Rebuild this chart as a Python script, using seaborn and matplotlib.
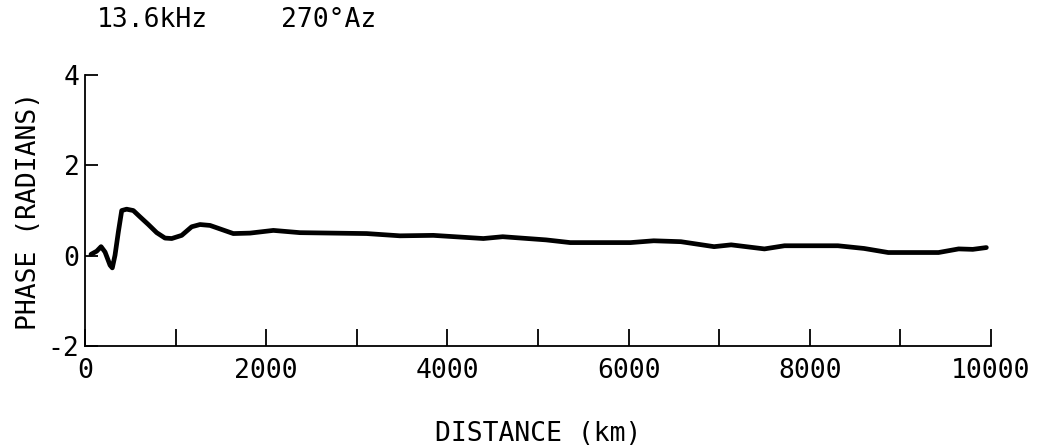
import matplotlib
matplotlib.use("Agg")
import matplotlib.pyplot as plt
import seaborn as sns
import pandas as pd

# Phase along the propagation path, 13.6 kHz, 270 deg azimuth
distance_km = [66, 129, 177, 221, 276, 301, 331, 368, 405, 459, 533, 607, 699,
               791, 883, 957, 1067, 1177, 1269, 1380, 1637, 1821, 2079, 2373,
               2741, 3109, 3477, 3845, 4397, 4611, 5089, 5356, 5700, 6022, 6278,
               6578, 6944, 7133, 7500, 7722, 8311, 8600, 8867, 9422, 9644, 9800,
               9950]
phase_rad = [0.03, 0.10, 0.20, 0.08, -0.21, -0.27, 0.01, 0.53, 1.00, 1.03, 1.00,
             0.86, 0.69, 0.51, 0.39, 0.38, 0.45, 0.64, 0.69, 0.67, 0.49, 0.50,
             0.56, 0.51, 0.50, 0.49, 0.44, 0.45, 0.38, 0.42, 0.35, 0.29, 0.29,
             0.29, 0.33, 0.31, 0.20, 0.24, 0.15, 0.22, 0.22, 0.16, 0.07, 0.07,
             0.15, 0.14, 0.18]

x_ticks = [0, 1000, 2000, 3000, 4000, 5000, 6000, 7000, 8000, 9000, 10000]
x_tick_labels = ["0", "", "2000", "", "4000", "", "6000", "", "8000", "", "10000"]
y_ticks = [-2, 0, 2, 4]
y_tick_labels = ["-2", "0", "2", "4"]

df = pd.DataFrame({"distance": distance_km, "phase": phase_rad})

sns.set_style("ticks")
plt.rcParams["font.family"] = ["DejaVu Sans Mono", "DejaVu Sans"]
plt.rcParams["text.color"] = "black"
plt.rcParams["axes.labelcolor"] = "black"

fig = plt.figure(figsize=(10.46, 4.47), dpi=100)
ax = fig.add_axes([0.0813, 0.226, 0.866, 0.606])

sns.lineplot(data=df, x="distance", y="phase", color="black", linewidth=3.4,
             ax=ax, sort=False, solid_joinstyle="round", solid_capstyle="round")

ax.set_xlim(0, 10000)
ax.set_ylim(-2, 4)
ax.set_xticks(x_ticks)
ax.set_xticklabels(x_tick_labels)
ax.set_yticks(y_ticks)
ax.set_yticklabels(y_tick_labels)
ax.tick_params(axis="x", direction="in", length=12, width=1.3, pad=9,
               labelsize=19, colors="black")
ax.tick_params(axis="y", direction="in", length=9, width=1.3, pad=4,
               labelsize=19, colors="black")

sns.despine(ax=ax)
for side in ("left", "bottom"):
    ax.spines[side].set_linewidth(1.3)
    ax.spines[side].set_color("black")

ax.set_xlabel("DISTANCE (km)", fontsize=19, labelpad=26)
ax.set_ylabel("PHASE (RADIANS)", fontsize=19, labelpad=4)

fig.text(97 / 1046, 1 - 20 / 447, "13.6kHz", fontsize=19, ha="left", va="center")
fig.text(281 / 1046, 1 - 20 / 447, "270°Az", fontsize=19, ha="left", va="center")

fig.savefig("out.png", dpi=100, facecolor="white")
